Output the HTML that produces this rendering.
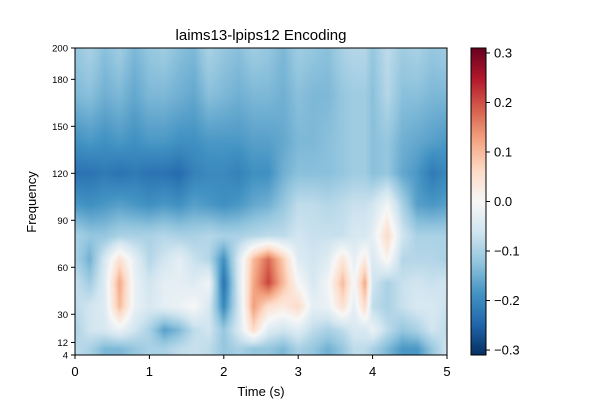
<!DOCTYPE html>
<html><head><meta charset="utf-8"><style>
body{margin:0;background:#fff;font-family:"Liberation Sans","DejaVu Sans",sans-serif;}
#wrap{position:relative;width:600px;height:400px;overflow:hidden}
canvas{position:absolute}
</style></head><body>
<div id="wrap">
<canvas id="hm" width="372" height="307" style="left:75px;top:48px"></canvas>
<canvas id="cb" width="15" height="307" style="left:471px;top:48px"></canvas>
<svg id="ax" width="600" height="400" style="position:absolute;left:0;top:0"></svg>
</div>
<script>
const times=[0,0.2,0.4,0.6,0.8,1.0,1.2,1.4,1.6,1.8,2.0,2.2,2.4,2.6,2.8,3.0,3.2,3.4,3.6,3.75,3.9,4.0,4.2,4.4,4.6,4.8,5.0];
const freqs=[200,170,140,120,100,80,65,50,35,20,8];
const r200=[-0.12,-0.1,-0.13,-0.11,-0.14,-0.12,-0.11,-0.13,-0.14,-0.1,-0.12,-0.13,-0.11,-0.12,-0.14,-0.11,-0.12,-0.13,-0.1,-0.09,-0.09,-0.12,-0.08,-0.11,-0.1,-0.12,-0.11];
const r170=[-0.14,-0.13,-0.15,-0.14,-0.16,-0.14,-0.14,-0.15,-0.16,-0.13,-0.14,-0.15,-0.14,-0.14,-0.15,-0.13,-0.14,-0.14,-0.12,-0.11,-0.11,-0.13,-0.09,-0.13,-0.13,-0.14,-0.14];
const r140=[-0.19,-0.18,-0.19,-0.18,-0.19,-0.18,-0.18,-0.19,-0.19,-0.18,-0.18,-0.18,-0.17,-0.17,-0.16,-0.14,-0.14,-0.13,-0.12,-0.11,-0.11,-0.13,-0.12,-0.15,-0.16,-0.17,-0.18];
const r120=[-0.23,-0.23,-0.22,-0.23,-0.22,-0.23,-0.23,-0.24,-0.21,-0.2,-0.2,-0.21,-0.19,-0.19,-0.15,-0.13,-0.13,-0.13,-0.12,-0.11,-0.11,-0.13,-0.12,-0.16,-0.18,-0.22,-0.2];
const r100=[-0.18,-0.19,-0.18,-0.17,-0.18,-0.19,-0.18,-0.19,-0.17,-0.18,-0.19,-0.18,-0.16,-0.15,-0.12,-0.08,-0.08,-0.09,-0.08,-0.07,-0.07,-0.06,-0.01,-0.1,-0.17,-0.18,-0.17];
const r80=[-0.1,-0.12,-0.12,-0.1,-0.1,-0.1,-0.09,-0.1,-0.1,-0.09,-0.1,-0.1,-0.09,-0.08,-0.08,-0.06,-0.07,-0.07,-0.07,-0.05,-0.05,-0.03,0.06,-0.06,-0.1,-0.1,-0.1];
const r65=[-0.1,-0.15,-0.05,0.05,-0.03,-0.09,-0.06,-0.03,-0.07,-0.09,-0.19,-0.05,0.1,0.18,0.08,-0.04,-0.06,-0.04,0.04,-0.03,0.03,-0.05,0.01,-0.09,-0.09,-0.09,-0.1];
const r50=[-0.07,-0.11,-0.04,0.12,-0.02,-0.06,-0.03,-0.03,-0.04,-0.01,-0.23,-0.05,0.12,0.21,0.1,0.0,-0.05,-0.01,0.1,-0.01,0.12,-0.06,-0.1,-0.07,-0.06,-0.07,-0.06];
const r35=[-0.08,-0.06,-0.04,0.1,-0.02,-0.05,-0.03,-0.02,0.0,-0.05,-0.2,-0.06,0.13,0.05,0.03,0.06,-0.03,-0.02,0.05,-0.03,0.06,-0.08,-0.1,-0.07,-0.05,-0.05,-0.07];
const r20=[-0.1,-0.06,-0.05,-0.02,-0.06,-0.1,-0.17,-0.14,-0.08,-0.06,-0.12,-0.05,0.06,-0.04,-0.06,-0.04,-0.08,-0.1,-0.08,-0.05,-0.05,-0.02,-0.08,-0.12,-0.1,-0.06,-0.08];
const r8=[-0.08,-0.1,-0.14,-0.14,-0.12,-0.1,-0.1,-0.08,-0.07,-0.08,-0.12,-0.1,-0.12,-0.12,-0.14,-0.1,-0.12,-0.15,-0.12,-0.08,-0.08,-0.1,-0.14,-0.18,-0.18,-0.12,-0.06];
const grid=[r200,r170,r140,r120,r100,r80,r65,r50,r35,r20,r8];
const xTicks=[0,1,2,3,4,5];
const yTicks=[4,12,30,60,90,120,150,180,200];
const cTicks=[-0.3,-0.2,-0.1,0.0,0.1,0.2,0.3];
const VMIN=-0.31,VMAX=0.31;

const PL=75,PT=48,PW=372,PH=307;
const xs=t=>PL+t/5*PW;
const ys=f=>PT+(200-f)/(200-4)*PH;
const stops=["#053061","#2166ac","#4393c3","#92c5de","#d1e5f0","#f7f7f7","#fddbc7","#f4a582","#d6604d","#b2182b","#67001f"].map(h=>[parseInt(h.slice(1,3),16),parseInt(h.slice(3,5),16),parseInt(h.slice(5,7),16)]);
function cmap(v){let u=(v-VMIN)/(VMAX-VMIN);u=Math.max(0,Math.min(1,u))*(stops.length-1);const i=Math.min(stops.length-2,Math.floor(u)),f=u-i;return stops[i].map((c,k)=>c+(stops[i+1][k]-c)*f);}
function seg(arr,v){
  for(let i=0;i<arr.length-1;i++){if(v<=arr[i+1])return [i,(v-arr[i])/(arr[i+1]-arr[i])];}
  return [arr.length-2,1];}
const hm=document.getElementById('hm').getContext('2d');
const img=hm.createImageData(PW,PH);
const fAsc=freqs.slice().reverse();
for(let py=0;py<PH;py++){
  const f=200-(py+0.5)/PH*196;
  let [fi,ff]=seg(fAsc,Math.max(8,f)); ff=Math.max(0,Math.min(1,ff));
  const rowLo=grid[freqs.length-1-fi],rowHi=grid[freqs.length-2-fi];
  for(let px=0;px<PW;px++){
    const t=(px+0.5)/PW*5;
    const [ti,tf]=seg(times,t);
    const a=rowLo[ti]+(rowLo[ti+1]-rowLo[ti])*tf;
    const b=rowHi[ti]+(rowHi[ti+1]-rowHi[ti])*tf;
    const c=cmap(a+(b-a)*ff);
    const o=(py*PW+px)*4;img.data[o]=c[0];img.data[o+1]=c[1];img.data[o+2]=c[2];img.data[o+3]=255;
  }}
hm.putImageData(img,0,0);
const cb=document.getElementById('cb').getContext('2d');
for(let py=0;py<PH;py++){const c=cmap(VMAX-(py+0.5)/PH*(VMAX-VMIN));cb.fillStyle=`rgb(${c.map(Math.round)})`;cb.fillRect(0,py,15,1);}
const svg=document.getElementById('ax');const NS="http://www.w3.org/2000/svg";
function el(tag,at,txt){const e=document.createElementNS(NS,tag);for(const k in at)e.setAttribute(k,at[k]);if(txt!==undefined)e.textContent=txt;svg.appendChild(e);return e;}
let e;
e=el('rect',{x:PL,y:PT,width:PW,height:PH,fill:'none',stroke:'#000','stroke-width':1});


e=el('rect',{x:471,y:PT,width:15,height:PH,fill:'none',stroke:'#000','stroke-width':1});


xTicks.forEach(t=>{const x=xs(t);el('line',{x1:x,x2:x,y1:PT+PH,y2:PT+PH+4,stroke:'#000'});
  e=el('text',{x:x,y:376,'font-size':13,'text-anchor':'middle','font-family':'Liberation Sans, sans-serif'},String(t));
  
  });
yTicks.forEach(f=>{const y=ys(f);el('line',{x1:PL-4,x2:PL,y1:y,y2:y,stroke:'#000'});
  e=el('text',{x:PL-7,y:y+3.5,'font-size':9.5,'text-anchor':'end','font-family':'Liberation Sans, sans-serif'},String(f));
  
  });
cTicks.forEach(v=>{const y=PT+(VMAX-v)/(VMAX-VMIN)*PH;el('line',{x1:486,x2:490,y1:y,y2:y,stroke:'#000'});
  e=el('text',{x:494,y:y+4.5,'font-size':13,'font-family':'Liberation Sans, sans-serif'},(v<0?'\u2212':'')+Math.abs(v).toFixed(1));
  
  });
e=el('text',{x:261,y:40,'font-size':15,'text-anchor':'middle','font-family':'Liberation Sans, sans-serif'},'laims13-lpips12 Encoding');


e=el('text',{x:261,y:396,'font-size':13,'text-anchor':'middle','font-family':'Liberation Sans, sans-serif'},'Time (s)');


e=el('text',{x:36,y:202,'font-size':13,'text-anchor':'middle','font-family':'Liberation Sans, sans-serif',transform:'rotate(-90 36 202)'},'Frequency');


</script>
</body></html>
